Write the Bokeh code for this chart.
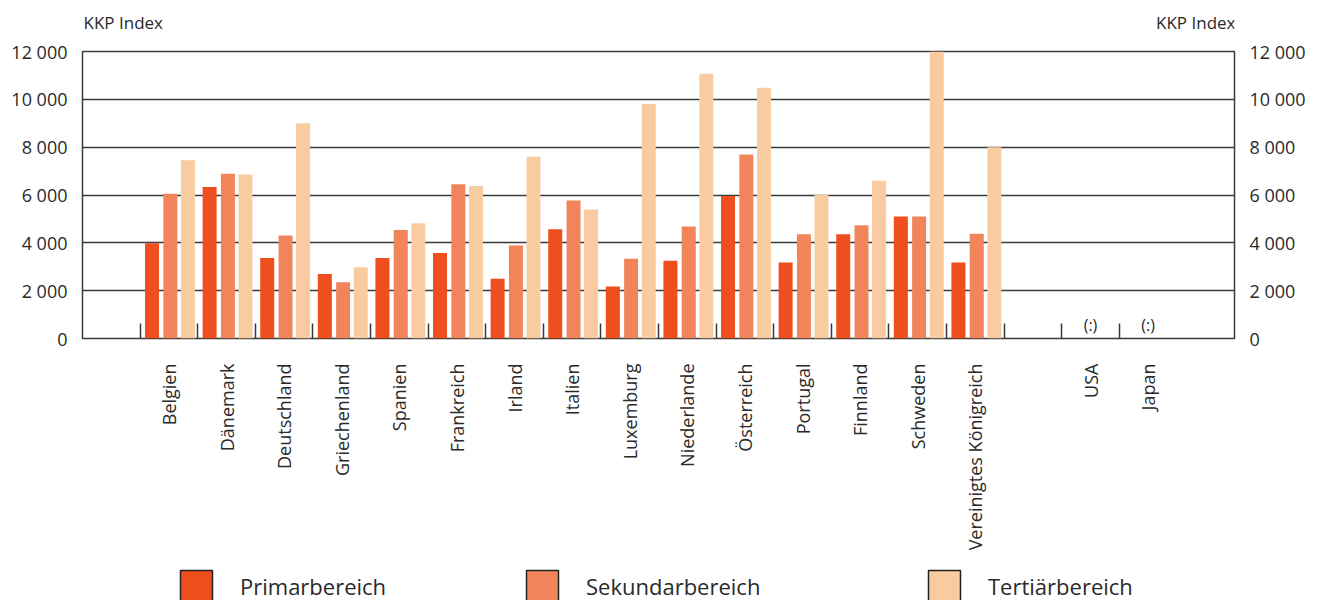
from math import pi, nan
from bokeh.plotting import figure
from bokeh.layouts import column
from bokeh.models import (Range1d, LinearAxis, FixedTicker, Legend, LegendItem,
                          ColumnDataSource)
from bokeh.transform import dodge
from bokeh.core.properties import value
from bokeh.embed import file_html
from bokeh.resources import INLINE

# ---------------- data ----------------
countries = ["Belgien", "Dänemark", "Deutschland", "Griechenland", "Spanien",
             "Frankreich", "Irland", "Italien", "Luxemburg", "Niederlande",
             "Österreich", "Portugal", "Finnland", "Schweden", "Vereinigtes Königreich"]
primar = [3980, 6330, 3370, 2700, 3370, 3570, 2500, 4570, 2170, 3250,
          5960, 3180, 4360, 5100, 3180]
sekundar = [6050, 6890, 4310, 2350, 4540, 6450, 3890, 5770, 3330, 4680,
            7690, 4360, 4740, 5100, 4380]
tertiar = [7450, 6860, 9000, 2980, 4820, 6380, 7600, 5390, 9810, 11070,
           10480, 6000, 6600, 12000, 8000]
others = ["USA", "Japan"]
others_labels = ["(:)", "(:)"]
series_names = ["Primarbereich", "Sekundarbereich", "Tertiärbereich"]
y_ticks = [0, 2000, 4000, 6000, 8000, 10000, 12000]
axis_title = "KKP Index"

# ---------------- style / layout ----------------
FONT = "Open Sans"
TXT = "#2a2a2a"
LINE = "#3a3a3a"
colors = ["#EF4E1D", "#F1845A", "#F8CBA1"]
W = 1317
BL, BR = 82, 83

# slots: leading gap, countries, gap, others, trailing gap
n_slots = 1 + len(countries) + 1 + len(others) + 1
country_x = [1 + i + 0.5 for i in range(len(countries))]
others_x = [1 + len(countries) + 1 + i + 0.5 for i in range(len(others))]
boundaries = list(range(1, n_slots - 1))
x_range = Range1d(0, n_slots)


def fmt(v):
    return f"{v:,}".replace(",", " ")


# ---------------- top strip: axis titles ----------------
top = figure(width=W, height=38, output_backend="svg", toolbar_location=None,
             x_range=x_range, y_range=Range1d(0, 1),
             x_axis_type=None, y_axis_type=None,
             min_border_left=BL, min_border_right=BR, min_border_top=0,
             min_border_bottom=0)
top.outline_line_color = None
top.grid.visible = False
top.background_fill_color = "white"
top.border_fill_color = "white"
for xx, al in ((0, "left"), (n_slots, "right")):
    top.text(x=[xx], y=[0], text=[axis_title], text_align=al,
             text_baseline="alphabetic", y_offset=-16, x_offset=1,
             text_font=value(FONT), text_font_size="17px", text_color=TXT)

# ---------------- main chart ----------------
p = figure(width=W, height=522, output_backend="svg", toolbar_location=None,
           x_range=x_range, y_range=Range1d(0, 12000),
           min_border_left=BL, min_border_right=BR, min_border_top=13,
           min_border_bottom=222)
p.background_fill_color = "white"
p.border_fill_color = "white"
p.outline_line_color = LINE
p.outline_line_width = 1.5

src = ColumnDataSource(dict(x=country_x, p=primar, s=sekundar, t=tertiar))
offsets = [-0.293, 0.025, 0.33]
fields = ["p", "s", "t"]
for off, f, c in zip(offsets, fields, colors):
    p.vbar(x=dodge("x", off), top=f, bottom=0, width=0.243, source=src,
           fill_color=c, line_color=None)

# "(:)" = data not available
p.text(x=others_x, y=[0] * len(others), text=others_labels, y_offset=-14,
       text_align="center", text_baseline="middle", text_font=value(FONT),
       text_font_size="16px", text_color=TXT)

p.xgrid.visible = False
p.ygrid.ticker = FixedTicker(ticks=y_ticks)
p.ygrid.grid_line_color = LINE
p.ygrid.grid_line_width = 1.4

xa = p.xaxis[0]
xa.ticker = FixedTicker(ticks=country_x + others_x, minor_ticks=boundaries)
xa.major_label_overrides = {x: n for x, n in zip(country_x + others_x, countries + others)}
xa.major_label_orientation = pi / 2
xa.major_tick_line_color = None
xa.major_tick_out = 0
xa.major_tick_in = 0
xa.minor_tick_in = 15
xa.minor_tick_out = 0
xa.minor_tick_line_color = LINE
xa.minor_tick_line_width = 1.5
xa.axis_line_color = None
xa.major_label_standoff = 25
xa.major_label_text_font = FONT
xa.major_label_text_font_size = "18px"
xa.major_label_text_color = TXT

overrides = {t: fmt(t) for t in y_ticks}
ya = p.yaxis[0]
ya2 = LinearAxis()
p.add_layout(ya2, "right")
for a in (ya, ya2):
    a.ticker = FixedTicker(ticks=y_ticks)
    a.major_label_overrides = overrides
    a.major_tick_line_color = None
    a.minor_tick_line_color = None
    a.major_tick_out = 0
    a.major_tick_in = 0
    a.axis_line_color = None
    a.major_label_standoff = 15
    a.major_label_text_font = FONT
    a.major_label_text_font_size = "18px"
    a.major_label_text_color = TXT

# ---------------- legend strip ----------------
leg_fig = figure(width=W, height=40, output_backend="svg", toolbar_location=None,
                 x_range=Range1d(0, 1), y_range=Range1d(0, 1),
                 x_axis_type=None, y_axis_type=None,
                 min_border_left=BL, min_border_right=BR, min_border_top=0,
                 min_border_bottom=0)
leg_fig.outline_line_color = None
leg_fig.grid.visible = False
leg_fig.background_fill_color = "white"
leg_fig.border_fill_color = "white"
legend_x = [94, 440, 842]   # offsets from the frame's left edge, px
for name, c, lx in zip(series_names, colors, legend_x):
    # swatch-only renderer: no drawable data, it just styles the legend entry
    r = leg_fig.vbar(x=[nan], top=[nan], bottom=0, width=0.2, fill_color=c,
                     line_color="#222222", line_width=1.5)
    leg = Legend(items=[LegendItem(label=name, renderers=[r])],
                 location=(lx, -6), orientation="horizontal",
                 glyph_width=40, glyph_height=40, label_standoff=24,
                 label_text_font=FONT, label_text_font_size="22px",
                 label_text_color=TXT, border_line_color=None,
                 background_fill_alpha=0, padding=0, margin=0, spacing=0)
    leg_fig.add_layout(leg, "center")

layout = column(top, p, leg_fig, spacing=0)
open("out.html", "w").write(file_html(layout, INLINE))
